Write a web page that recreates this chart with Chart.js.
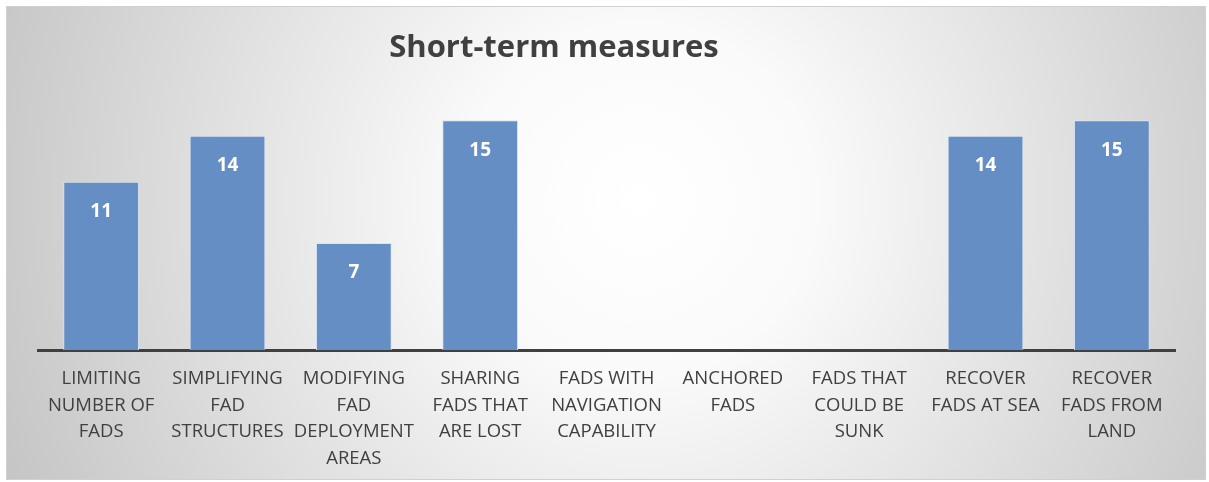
<!DOCTYPE html>
<html><head><meta charset="utf-8">
<script src="https://cdn.jsdelivr.net/npm/chart.js@4/dist/chart.umd.min.js"></script>
<style>html,body{margin:0;padding:0;background:#fff}#wrap{width:1209px;height:482px}</style>
</head><body><div id="wrap"><canvas id="c" width="1209" height="482"></canvas></div>
<script>
const titleText = "Short-term measures";
const categories = [
  ["LIMITING","NUMBER OF","FADS"],
  ["SIMPLIFYING","FAD","STRUCTURES"],
  ["MODIFYING","FAD","DEPLOYMENT","AREAS"],
  ["SHARING","FADS THAT","ARE LOST"],
  ["FADS WITH","NAVIGATION","CAPABILITY"],
  ["ANCHORED","FADS"],
  ["FADS THAT","COULD BE","SUNK"],
  ["RECOVER","FADS AT SEA"],
  ["RECOVER","FADS FROM","LAND"]
];
const values = [11,14,7,15,0,0,0,14,15];

const bgPlugin = {
  id:'bg',
  beforeDraw(chart){
    const ctx = chart.ctx;
    ctx.save();
    ctx.fillStyle='#ffffff';
    ctx.fillRect(0,0,chart.width,chart.height);
    const g = ctx.createRadialGradient(640,200,0,640,200,700);
    g.addColorStop(0,'#ffffff');
    g.addColorStop(0.25,'#fafafa');
    g.addColorStop(1,'#c4c4c4');
    ctx.fillStyle=g;
    ctx.fillRect(7,7,1198,472);
    ctx.strokeStyle='#d0d0d0';
    ctx.lineWidth=1;
    ctx.strokeRect(6.5,6.5,1199,473);
    ctx.restore();
  }
};
const titlePlugin = {
  id:'ttl',
  afterDraw(chart){
    const ctx=chart.ctx;
    ctx.save();
    ctx.font='bold 31px "Open Sans"';
    ctx.fillStyle='#404040';
    ctx.textAlign='center';
    ctx.textBaseline='middle';
    ctx.fillText(titleText,554,48);
    ctx.restore();
  }
};
const labelPlugin = {
  id:'lbl',
  afterDatasetsDraw(chart){
    const ctx=chart.ctx;
    const meta=chart.getDatasetMeta(0);
    ctx.save();
    ctx.font='bold 19px "Open Sans"';
    ctx.fillStyle='#ffffff';
    ctx.textAlign='center';
    ctx.textBaseline='middle';
    meta.data.forEach((bar,i)=>{
      const v=chart.data.datasets[0].data[i];
      if(!v) return;
      ctx.fillText(String(v),bar.x,bar.y+30);
    });
    ctx.restore();
  }
};
new Chart(document.getElementById('c'),{
  type:'bar',
  data:{labels:categories,datasets:[{data:values,backgroundColor:'#658fc4',borderColor:'#dbe5f1',borderWidth:1,borderSkipped:'bottom',barPercentage:0.6,categoryPercentage:1}]},
  options:{
    responsive:false,animation:false,
    layout:{padding:{left:38,right:34,top:105,bottom:-5}},
    plugins:{legend:{display:false},tooltip:{enabled:false},title:{display:false}},
    scales:{
      y:{display:false,min:0,max:16},
      x:{
        grid:{display:false,drawTicks:false},
        border:{display:true,color:'#404040',width:3},
        ticks:{color:'#404040',font:{family:'Open Sans',size:18.5,lineHeight:'26.7px'},padding:15,maxRotation:0,autoSkip:false},
      }
    }
  },
  plugins:[bgPlugin,titlePlugin,labelPlugin]
});
</script></body></html>
